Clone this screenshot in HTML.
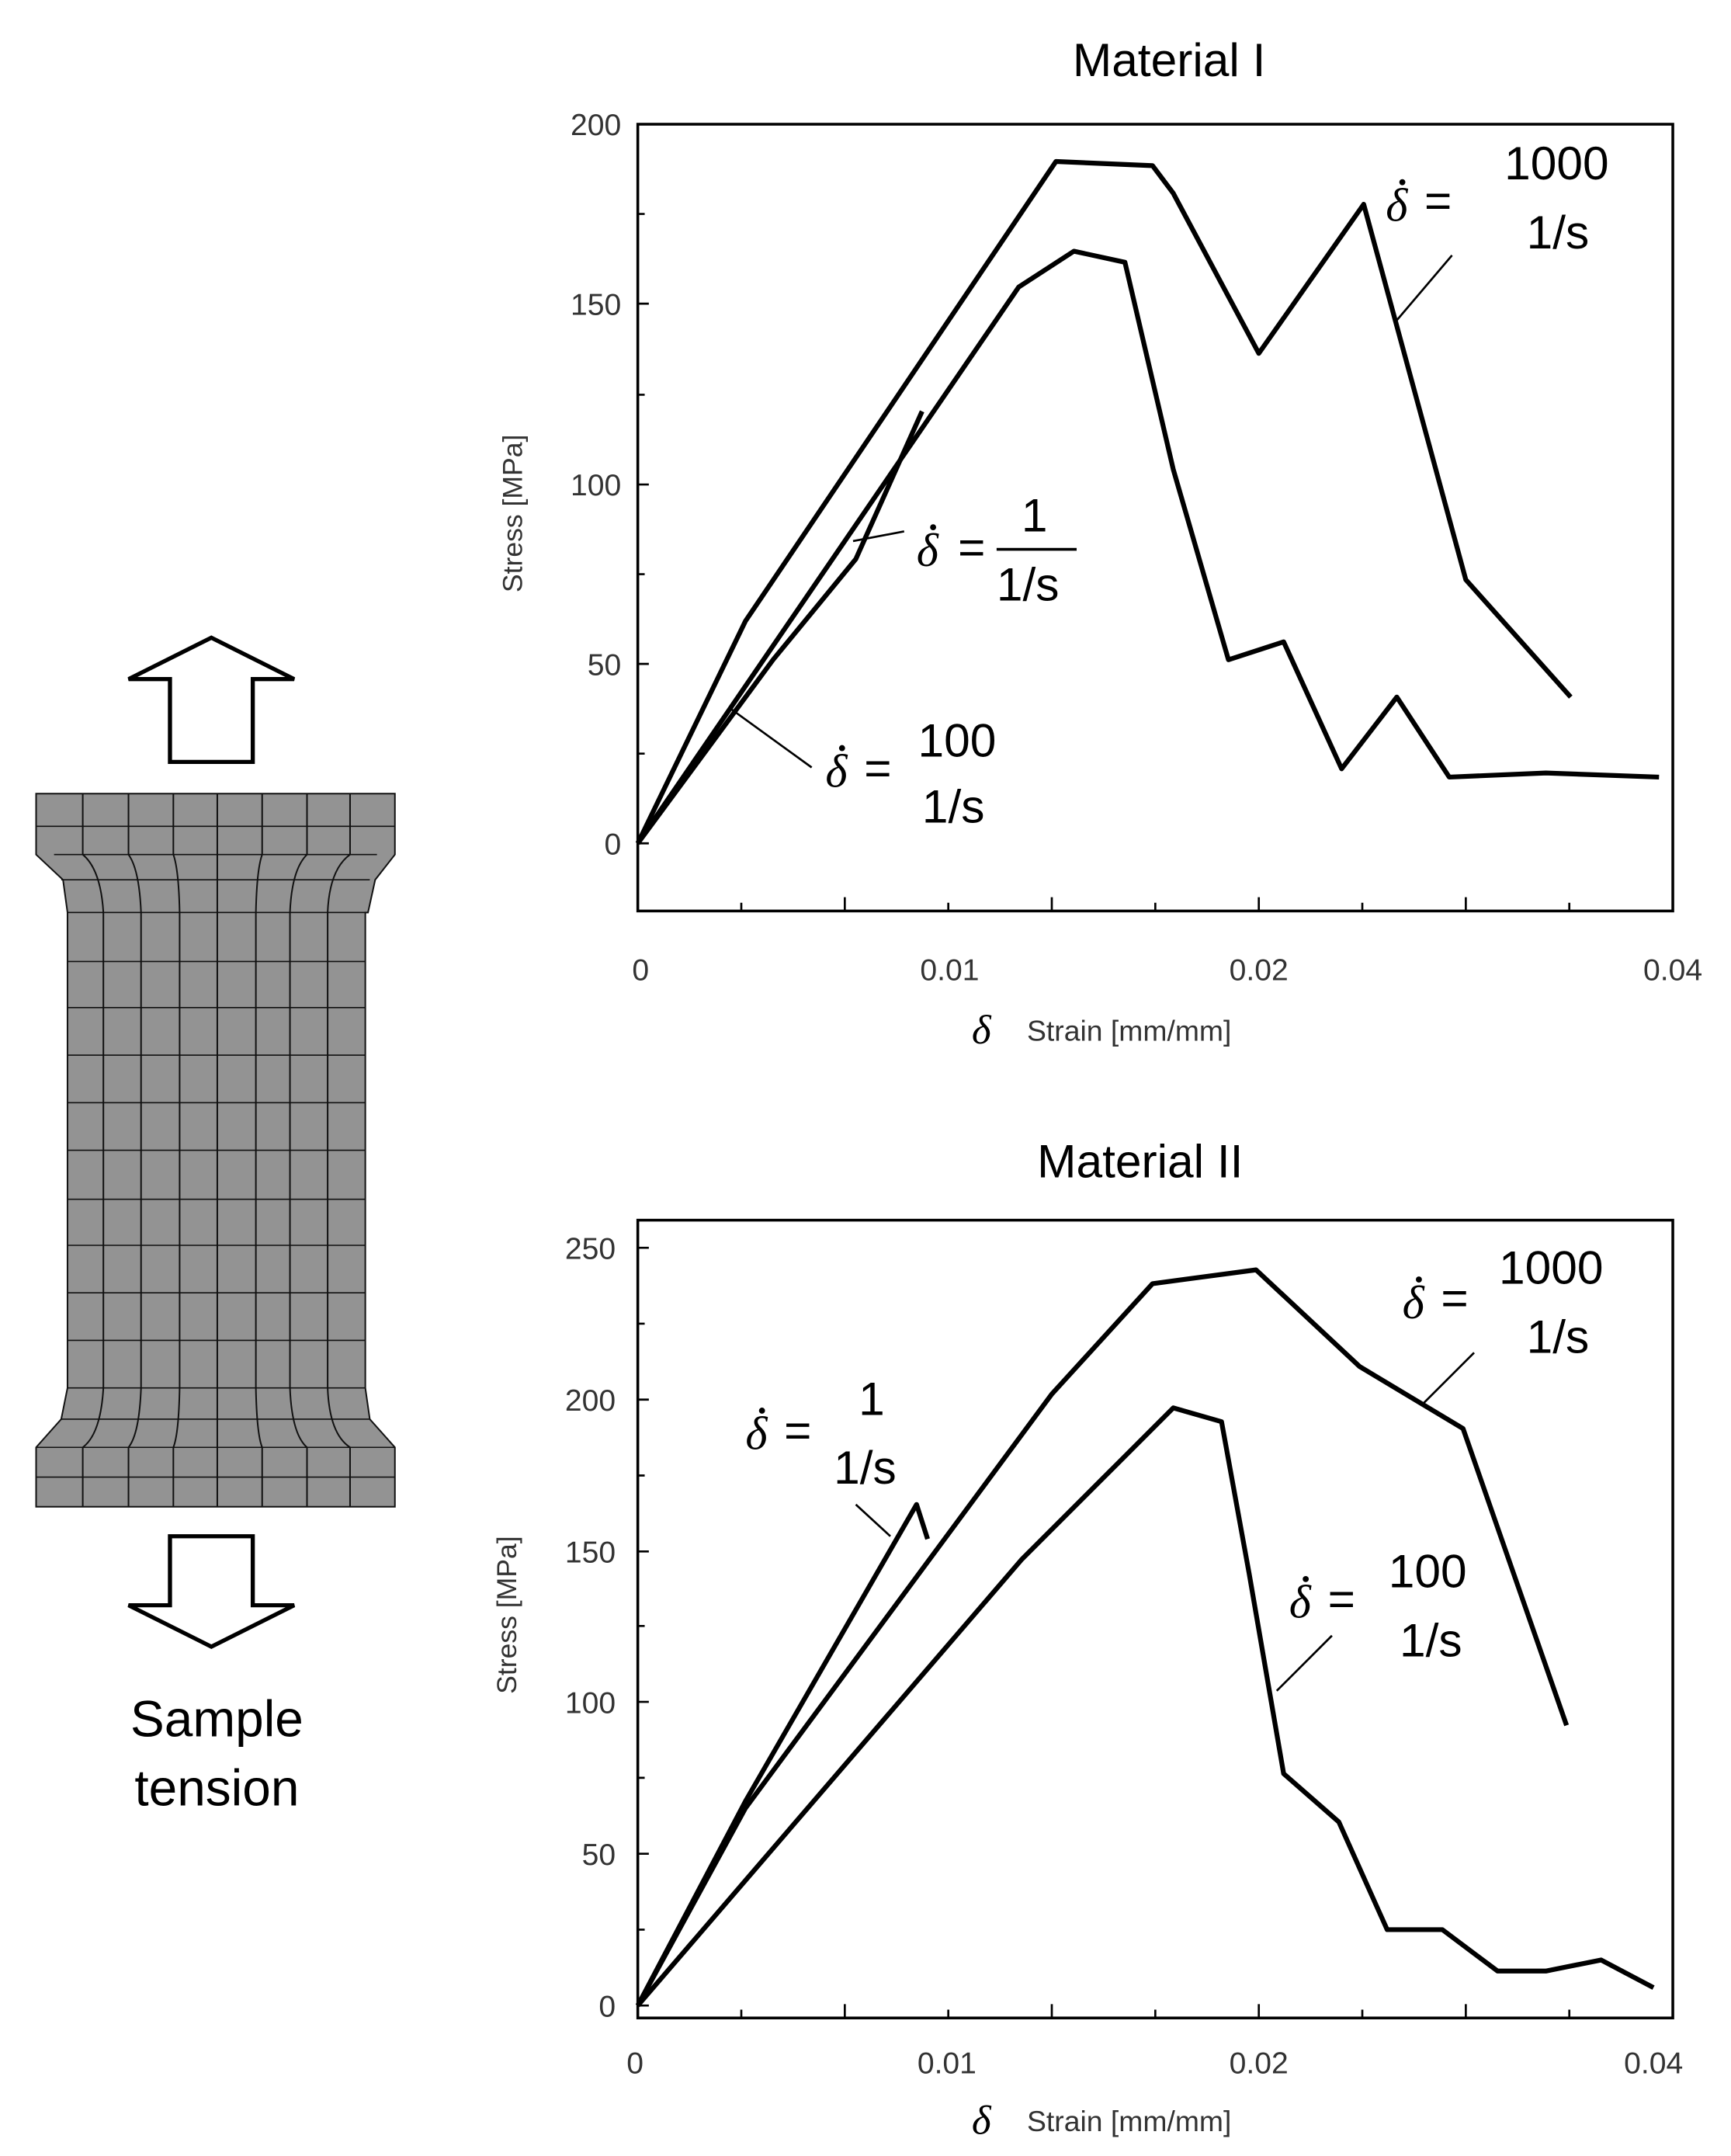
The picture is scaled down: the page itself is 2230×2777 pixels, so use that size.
<!DOCTYPE html>
<html><head><style>html,body{margin:0;padding:0;background:#fff}svg{display:block}</style></head>
<body>
<svg width="2230" height="2777" viewBox="0 0 1254 1562" xmlns="http://www.w3.org/2000/svg" font-family="Liberation Sans, sans-serif">
<!-- specimen -->
<g transform="translate(0,-511.1) scale(0.65,1.0764)" stroke="#111" fill="none">
<path d="M40,1009 L440,1009 L440,1050 L418,1067 L410,1089 L407,1089 L407,1409 L412,1430 L440,1449 L440,1489 L40,1489 L40,1449 L68,1430 L75,1409 L75,1089 L70,1067 L40,1050 Z" fill="#939393" stroke-width="2" vector-effect="non-scaling-stroke"/>
<g stroke-width="2" vector-effect="non-scaling-stroke">
<path vector-effect="non-scaling-stroke" d="M92,1009V1050Q112,1060 115,1089V1409Q112,1440 92,1449V1489"/>
<path vector-effect="non-scaling-stroke" d="M143,1009V1050Q155,1060 157,1089V1409Q155,1440 143,1449V1489"/>
<path vector-effect="non-scaling-stroke" d="M193,1009V1050Q199,1060 200,1089V1409Q199,1440 193,1449V1489"/>
<path vector-effect="non-scaling-stroke" d="M242,1009V1489"/>
<path vector-effect="non-scaling-stroke" d="M292,1009V1050Q286,1060 285,1089V1409Q286,1440 292,1449V1489"/>
<path vector-effect="non-scaling-stroke" d="M342,1009V1050Q325,1060 323,1089V1409Q325,1440 342,1449V1489"/>
<path vector-effect="non-scaling-stroke" d="M390,1009V1050Q367,1060 365,1089V1409Q367,1440 390,1449V1489"/>
</g>
<path vector-effect="non-scaling-stroke" stroke-width="1.6" d="M40,1031H440M60,1050H420M68,1067H412M75,1089H407M75,1122H407M75,1153H407M75,1185H407M75,1217H407M75,1249H407M75,1282H407M75,1313H407M75,1345H407M75,1377H407M75,1409H407M68,1430H412M40,1449H440M40,1469H440"/>
</g>
<path d="M153,462 L213,492 L183,492 L183,552 L123,552 L123,492 L93,492 Z" fill="#fff" stroke="#000" stroke-width="3"/>
<path d="M153,1193 L213,1163 L183,1163 L183,1113 L123,1113 L123,1163 L93,1163 Z" fill="#fff" stroke="#000" stroke-width="3"/>
<text x="157" y="1258" font-size="37" text-anchor="middle">Sample</text>
<text x="157" y="1308" font-size="37" text-anchor="middle">tension</text>

<!-- Chart 1 -->
<text x="847" y="55" font-size="34" text-anchor="middle">Material I</text>
<rect x="462" y="90" width="750" height="570" fill="none" stroke="#000" stroke-width="2"/>
<g stroke="#000" stroke-width="1.5">
<path d="M462,90h8M462,155h5M462,220h8M462,286h5M462,351h8M462,416h5M462,481h8M462,546h5M462,611h8"/>
<path d="M537,660v-6M612,660v-10M687,660v-6M762,660v-10M837,660v-6M912,660v-10M987,660v-6M1062,660v-10M1137,660v-6"/>
</g>
<g font-size="22" fill="#333" text-anchor="end">
<text x="450" y="98">200</text><text x="450" y="228">150</text><text x="450" y="359">100</text><text x="450" y="489">50</text><text x="450" y="619">0</text>
</g>
<g font-size="22" fill="#333" text-anchor="middle">
<text x="464" y="710">0</text><text x="688" y="710">0.01</text><text x="912" y="710">0.02</text><text x="1212" y="710">0.04</text>
</g>
<text x="378" y="372" font-size="20" fill="#333" text-anchor="middle" transform="rotate(-90 378 372)">Stress [MPa]</text>
<text x="704" y="756" font-size="30" font-style="italic" font-family="Liberation Serif, serif">δ</text>
<text x="744" y="754" font-size="21" fill="#333">Strain [mm/mm]</text>
<g fill="none" stroke="#000" stroke-width="3.5" stroke-linejoin="round">
<polyline points="462,611 540,450 765,117 835,120 850,140 912,256 988,148 1062,420 1138,505"/>
<polyline points="462,611 738,208 778,182 815,190 850,340 890,478 930,465 972,557 1012,505 1050,563 1120,560 1202,563"/>
<polyline points="462,611 560,478 620,405 668,298"/>
</g>
<g stroke="#000" stroke-width="1.5"><path d="M1052,185L1012,232M655,385L618,392M588,556L530,514"/></g>
<g font-size="34">
<text x="1004" y="160" font-style="italic" font-family="Liberation Serif, serif">δ</text><circle cx="1016" cy="132" r="2.2"/><text x="1032" y="157">=</text>
<text x="1090" y="130">1000</text><text x="1106" y="180">1/s</text>
<text x="664" y="410" font-style="italic" font-family="Liberation Serif, serif">δ</text><circle cx="676" cy="382" r="2.2"/><text x="694" y="408">=</text>
<text x="740" y="385">1</text><path d="M722,398H780" stroke="#000" stroke-width="2"/><text x="722" y="435">1/s</text>
<text x="598" y="570" font-style="italic" font-family="Liberation Serif, serif">δ</text><circle cx="610" cy="542" r="2.2"/><text x="626" y="568">=</text>
<text x="665" y="548">100</text><text x="668" y="596">1/s</text>
</g>

<!-- Chart 2 -->
<text x="826" y="853" font-size="34" text-anchor="middle">Material II</text>
<rect x="462" y="884" width="750" height="578" fill="none" stroke="#000" stroke-width="2"/>
<g stroke="#000" stroke-width="1.5">
<path d="M462,904h8M462,959h5M462,1014h8M462,1069h5M462,1124h8M462,1178h5M462,1233h8M462,1288h5M462,1343h8M462,1398h5M462,1453h8"/>
<path d="M537,1462v-6M612,1462v-10M687,1462v-6M762,1462v-10M837,1462v-6M912,1462v-10M987,1462v-6M1062,1462v-10M1137,1462v-6"/>
</g>
<g font-size="22" fill="#333" text-anchor="end">
<text x="446" y="912">250</text><text x="446" y="1022">200</text><text x="446" y="1132">150</text><text x="446" y="1241">100</text><text x="446" y="1351">50</text><text x="446" y="1461">0</text>
</g>
<g font-size="22" fill="#333" text-anchor="middle">
<text x="460" y="1502">0</text><text x="686" y="1502">0.01</text><text x="912" y="1502">0.02</text><text x="1198" y="1502">0.04</text>
</g>
<text x="374" y="1170" font-size="20" fill="#333" text-anchor="middle" transform="rotate(-90 374 1170)">Stress [MPa]</text>
<text x="704" y="1546" font-size="30" font-style="italic" font-family="Liberation Serif, serif">δ</text>
<text x="744" y="1544" font-size="21" fill="#333">Strain [mm/mm]</text>
<g fill="none" stroke="#000" stroke-width="3.5" stroke-linejoin="round">
<polyline points="462,1453 540,1310 762,1010 835,930 910,920 985,990 1060,1035 1135,1250"/>
<polyline points="462,1453 740,1130 810,1060 850,1020 885,1030 905,1140 930,1285 970,1320 1005,1398 1045,1398 1085,1428 1120,1428 1160,1420 1198,1440"/>
<polyline points="462,1453 540,1305 664,1090 672,1115"/>
</g>
<g stroke="#000" stroke-width="1.5"><path d="M1068,980L1030,1018M645,1113L620,1090M965,1185L925,1225"/></g>
<g font-size="34">
<text x="1016" y="955" font-style="italic" font-family="Liberation Serif, serif">δ</text><circle cx="1028" cy="927" r="2.2"/><text x="1044" y="952">=</text>
<text x="1086" y="930">1000</text><text x="1106" y="980">1/s</text>
<text x="540" y="1050" font-style="italic" font-family="Liberation Serif, serif">δ</text><circle cx="552" cy="1022" r="2.2"/><text x="568" y="1048">=</text>
<text x="622" y="1025">1</text><text x="604" y="1075">1/s</text>
<text x="934" y="1172" font-style="italic" font-family="Liberation Serif, serif">δ</text><circle cx="946" cy="1144" r="2.2"/><text x="962" y="1170">=</text>
<text x="1006" y="1150">100</text><text x="1014" y="1200">1/s</text>
</g>
</svg>
</body></html>
